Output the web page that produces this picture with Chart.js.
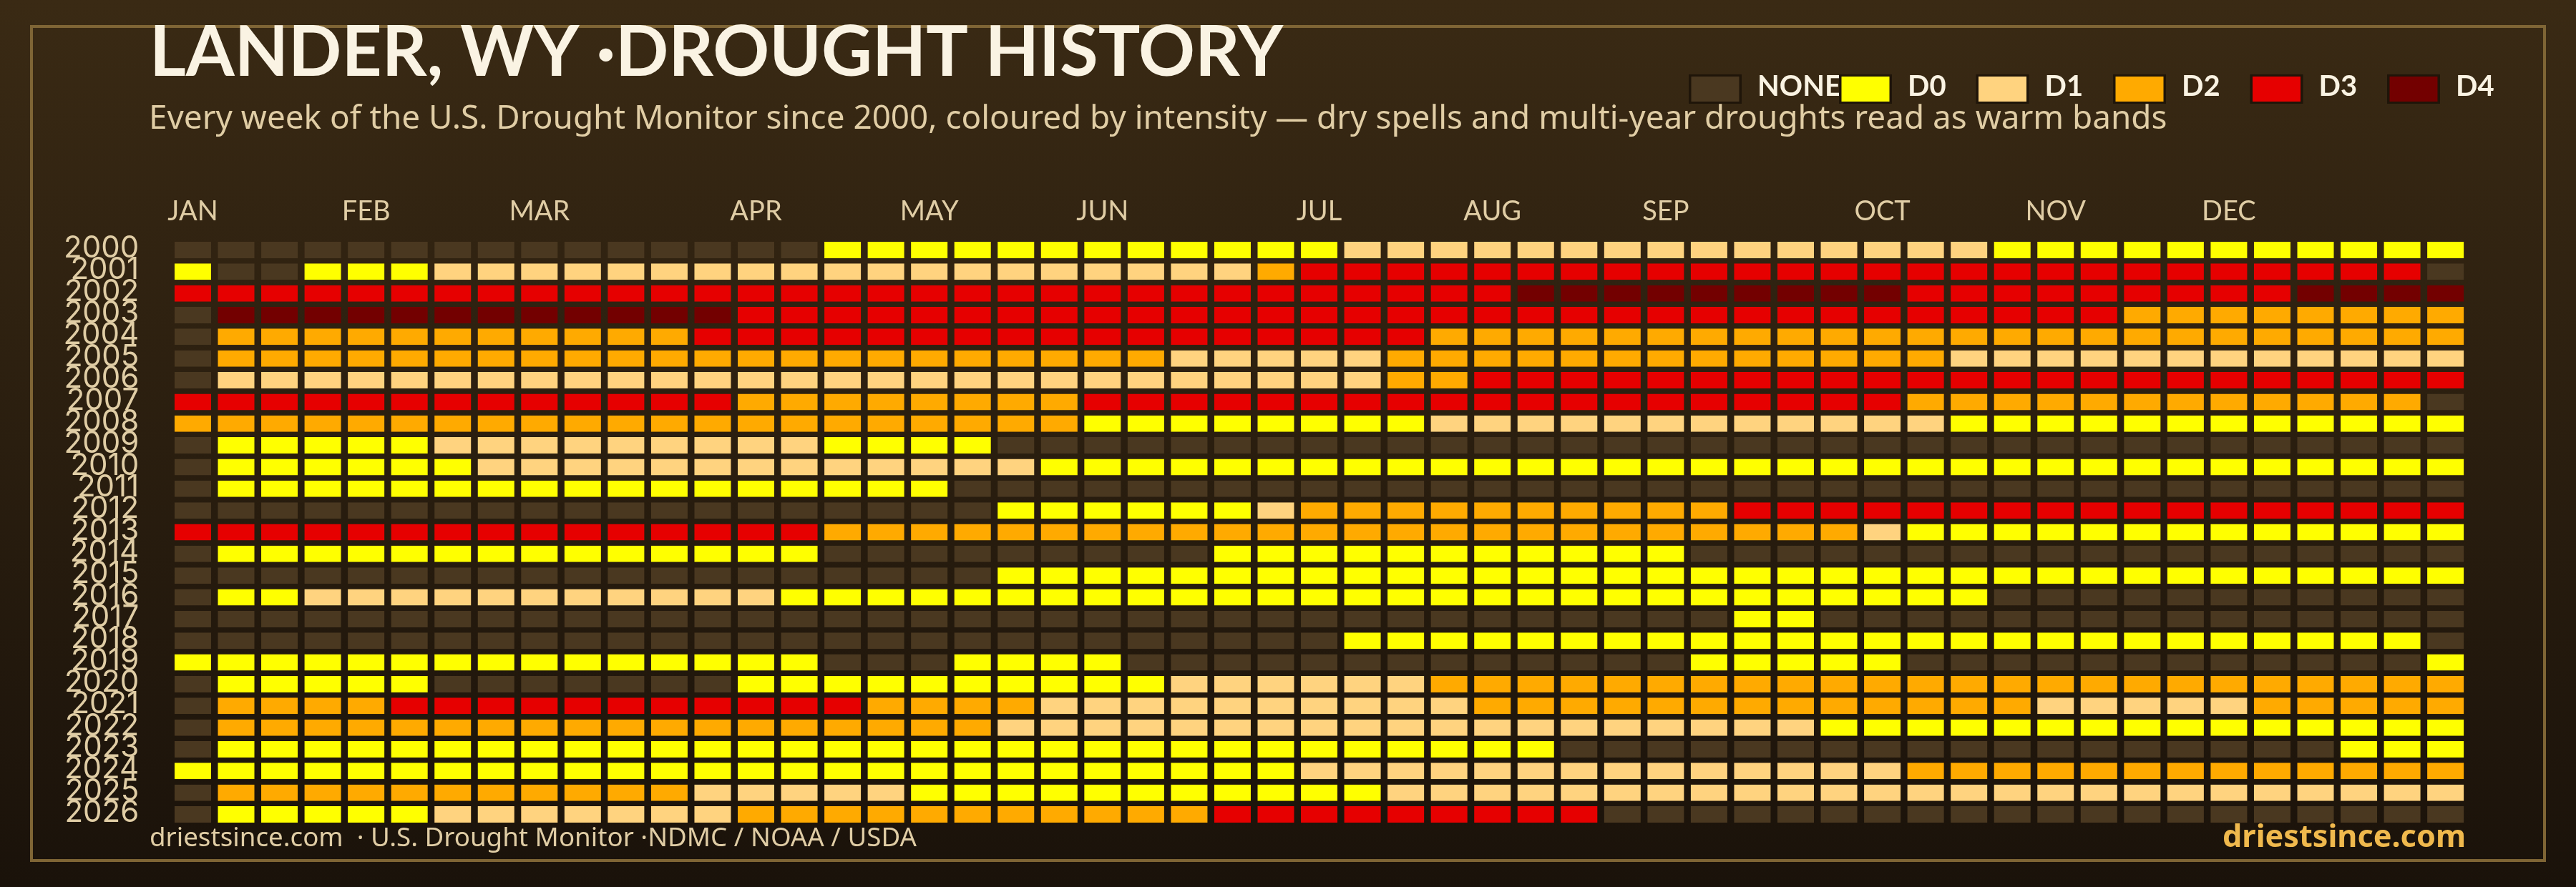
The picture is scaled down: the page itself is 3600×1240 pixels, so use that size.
<!DOCTYPE html>
<html><head><meta charset="utf-8">
<style>html,body{margin:0;padding:0;background:#1b130a}canvas{display:block}</style>
<script src="https://cdn.jsdelivr.net/npm/chart.js@4"></script>
</head><body><canvas id="c" width="3600" height="1240"></canvas>
<script>
const years=['2000','2001','2002','2003','2004','2005','2006','2007','2008','2009','2010','2011','2012','2013','2014','2015','2016','2017','2018','2019','2020','2021','2022','2023','2024','2025','2026'];
const monthLabels=['JAN','FEB','MAR','APR','MAY','JUN','JUL','AUG','SEP','OCT','NOV','DEC'];
const monthWeeks=[0,4,8,13,17,21,26,30,34,39,43,47];
const levelNames=['NONE','D0','D1','D2','D3','D4'];
const levelColors=['#4a3820','#ffff00','#ffd37f','#ffaa00','#e60000','#730000'];
// 0 = none, 1..5 = D0..D4; one entry per week of the year
const w2000=[0,0,0,0,0,0,0,0,0,0, 0,0,0,0,0,1,1,1,1,1, 1,1,1,1,1,1,1,2,2,2, 2,2,2,2,2,2,2,2,2,2, 2,2,1,1,1,1,1,1,1,1, 1,1,1];
const w2001=[1,0,0,1,1,1,2,2,2,2, 2,2,2,2,2,2,2,2,2,2, 2,2,2,2,2,3,4,4,4,4, 4,4,4,4,4,4,4,4,4,4, 4,4,4,4,4,4,4,4,4,4, 4,4,0];
const w2002=[4,4,4,4,4,4,4,4,4,4, 4,4,4,4,4,4,4,4,4,4, 4,4,4,4,4,4,4,4,4,4, 4,5,5,5,5,5,5,5,5,5, 4,4,4,4,4,4,4,4,4,5, 5,5,5];
const w2003=[0,5,5,5,5,5,5,5,5,5, 5,5,5,4,4,4,4,4,4,4, 4,4,4,4,4,4,4,4,4,4, 4,4,4,4,4,4,4,4,4,4, 4,4,4,4,4,3,3,3,3,3, 3,3,3];
const w2004=[0,3,3,3,3,3,3,3,3,3, 3,3,4,4,4,4,4,4,4,4, 4,4,4,4,4,4,4,4,4,3, 3,3,3,3,3,3,3,3,3,3, 3,3,3,3,3,3,3,3,3,3, 3,3,3];
const w2005=[0,3,3,3,3,3,3,3,3,3, 3,3,3,3,3,3,3,3,3,3, 3,3,3,2,2,2,2,2,3,3, 3,3,3,3,3,3,3,3,3,3, 3,2,2,2,2,2,2,2,2,2, 2,2,2];
const w2006=[0,2,2,2,2,2,2,2,2,2, 2,2,2,2,2,2,2,2,2,2, 2,2,2,2,2,2,2,2,3,3, 4,4,4,4,4,4,4,4,4,4, 4,4,4,4,4,4,4,4,4,4, 4,4,4];
const w2007=[4,4,4,4,4,4,4,4,4,4, 4,4,4,3,3,3,3,3,3,3, 3,4,4,4,4,4,4,4,4,4, 4,4,4,4,4,4,4,4,4,4, 3,3,3,3,3,3,3,3,3,3, 3,3,0];
const w2008=[3,3,3,3,3,3,3,3,3,3, 3,3,3,3,3,3,3,3,3,3, 3,1,1,1,1,1,1,1,1,2, 2,2,2,2,2,2,2,2,2,2, 2,1,1,1,1,1,1,1,1,1, 1,1,1];
const w2009=[0,1,1,1,1,1,2,2,2,2, 2,2,2,2,2,1,1,1,1,0, 0,0,0,0,0,0,0,0,0,0, 0,0,0,0,0,0,0,0,0,0, 0,0,0,0,0,0,0,0,0,0, 0,0,0];
const w2010=[0,1,1,1,1,1,1,2,2,2, 2,2,2,2,2,2,2,2,2,2, 1,1,1,1,1,1,1,1,1,1, 1,1,1,1,1,1,1,1,1,1, 1,1,1,1,1,1,1,1,1,1, 1,1,1];
const w2011=[0,1,1,1,1,1,1,1,1,1, 1,1,1,1,1,1,1,1,0,0, 0,0,0,0,0,0,0,0,0,0, 0,0,0,0,0,0,0,0,0,0, 0,0,0,0,0,0,0,0,0,0, 0,0,0];
const w2012=[0,0,0,0,0,0,0,0,0,0, 0,0,0,0,0,0,0,0,0,1, 1,1,1,1,1,2,3,3,3,3, 3,3,3,3,3,3,4,4,4,4, 4,4,4,4,4,4,4,4,4,4, 4,4,4];
const w2013=[4,4,4,4,4,4,4,4,4,4, 4,4,4,4,4,3,3,3,3,3, 3,3,3,3,3,3,3,3,3,3, 3,3,3,3,3,3,3,3,3,2, 1,1,1,1,1,1,1,1,1,1, 1,1,1];
const w2014=[0,1,1,1,1,1,1,1,1,1, 1,1,1,1,1,0,0,0,0,0, 0,0,0,0,1,1,1,1,1,1, 1,1,1,1,1,0,0,0,0,0, 0,0,0,0,0,0,0,0,0,0, 0,0,0];
const w2015=[0,0,0,0,0,0,0,0,0,0, 0,0,0,0,0,0,0,0,0,1, 1,1,1,1,1,1,1,1,1,1, 1,1,1,1,1,1,1,1,1,1, 1,1,1,1,1,1,1,1,1,1, 1,1,1];
const w2016=[0,1,1,2,2,2,2,2,2,2, 2,2,2,2,1,1,1,1,1,1, 1,1,1,1,1,1,1,1,1,1, 1,1,1,1,1,1,1,1,1,1, 1,1,0,0,0,0,0,0,0,0, 0,0,0];
const w2017=[0,0,0,0,0,0,0,0,0,0, 0,0,0,0,0,0,0,0,0,0, 0,0,0,0,0,0,0,0,0,0, 0,0,0,0,0,0,1,1,0,0, 0,0,0,0,0,0,0,0,0,0, 0,0,0];
const w2018=[0,0,0,0,0,0,0,0,0,0, 0,0,0,0,0,0,0,0,0,0, 0,0,0,0,0,0,0,1,1,1, 1,1,1,1,1,1,1,1,1,1, 1,1,1,1,1,1,1,1,1,1, 1,1,0];
const w2019=[1,1,1,1,1,1,1,1,1,1, 1,1,1,1,1,0,0,0,1,1, 1,1,0,0,0,0,0,0,0,0, 0,0,0,0,0,1,1,1,1,1, 0,0,0,0,0,0,0,0,0,0, 0,0,1];
const w2020=[0,1,1,1,1,1,0,0,0,0, 0,0,0,1,1,1,1,1,1,1, 1,1,1,2,2,2,2,2,2,3, 3,3,3,3,3,3,3,3,3,3, 3,3,3,3,3,3,3,3,3,3, 3,3,3];
const w2021=[0,3,3,3,3,4,4,4,4,4, 4,4,4,4,4,4,3,3,3,3, 2,2,2,2,2,2,2,2,2,2, 3,3,3,3,3,3,3,3,3,3, 3,3,3,2,2,2,2,2,3,3, 3,3,3];
const w2022=[0,3,3,3,3,3,3,3,3,3, 3,3,3,3,3,3,3,3,3,2, 2,2,2,2,2,2,2,2,2,2, 2,2,2,2,2,2,2,2,1,1, 1,1,1,1,1,1,1,1,1,1, 1,1,1];
const w2023=[0,1,1,1,1,1,1,1,1,1, 1,1,1,1,1,1,1,1,1,1, 1,1,1,1,1,1,1,1,1,1, 1,1,0,0,0,0,0,0,0,0, 0,0,0,0,0,0,0,0,0,0, 1,1,1];
const w2024=[1,1,1,1,1,1,1,1,1,1, 1,1,1,1,1,1,1,1,1,1, 1,1,1,1,1,1,2,2,2,2, 2,2,2,2,2,2,2,2,2,2, 3,3,3,3,3,3,3,3,3,3, 3,3,3];
const w2025=[0,3,3,3,3,3,3,3,3,3, 3,3,2,2,2,2,2,1,1,1, 1,1,1,1,1,1,1,1,2,2, 2,2,2,2,2,2,2,2,2,2, 2,2,2,2,2,2,2,2,2,2, 2,2,2];
const w2026=[0,1,1,1,1,1,2,2,2,2, 2,2,2,3,3,3,3,3,3,3, 3,3,3,3,4,4,4,4,4,4, 4,4,4,0,0,0,0,0,0,0, 0,0,0,0,0,0,0,0,0,0, 0,0,0];
const grid=[w2000,w2001,w2002,w2003,w2004,w2005,w2006,w2007,w2008,w2009,w2010,w2011,w2012,w2013,w2014,w2015,w2016,w2017,w2018,w2019,w2020,w2021,w2022,w2023,w2024,w2025,w2026];
const titleText='LANDER, WY \u00b7DROUGHT HISTORY';
const subtitleText='Every week of the U.S. Drought Monitor since 2000, coloured by intensity \u2014 dry spells and multi-year droughts read as warm bands';
const footerLeft='driestsince.com  \u00b7 U.S. Drought Monitor \u00b7NDMC / NOAA / USDA';
const footerRight='driestsince.com';

const CREAM='#faf3e3', TAN='#e0cda5', GOLD='#f0b94d';
const datasets=levelNames.map((name,lvl)=>{
  const data=[];
  grid.forEach((row,r)=>row.forEach((v,w)=>{ if(v===lvl) data.push({x:[w,w+1],y:years[r]}); }));
  return {label:name,data,backgroundColor:levelColors[lvl],borderColor:'rgba(0,0,0,0)',
    borderWidth:{left:4.77,right:4.77,top:0,bottom:0},borderSkipped:false,grouped:false,
    barPercentage:23/30.35,categoryPercentage:1};
});
function txt(ctx,s,x,y,font,color,align,ls){
  ctx.save();ctx.font=font;ctx.fillStyle=color;ctx.textAlign=align||'left';ctx.textBaseline='alphabetic';
  ctx.letterSpacing=ls||'0px';ctx.fillText(s,x,y);ctx.restore();
}
const decor={id:'decor',
  beforeDraw(ch){
    const ctx=ch.ctx,W=ch.width,H=ch.height;
    const g=ctx.createLinearGradient(0,0,0,H);g.addColorStop(0,'#3a2a14');g.addColorStop(1,'#1a120a');
    ctx.fillStyle=g;ctx.fillRect(0,0,W,H);
    ctx.strokeStyle='#7f6535';ctx.lineWidth=4;ctx.strokeRect(44,37,3512,1166);
    txt(ctx,titleText,209,106,'700 97.8px Lato',CREAM,'left','0px');
    txt(ctx,subtitleText,208,180,'400 45.85px "Noto Sans"',TAN,'left','0px');
    txt(ctx,footerLeft,209,1183,'400 36.7px "Noto Sans"',TAN,'left','0px');
    txt(ctx,footerRight,3446,1184,'700 43.2px "Noto Sans"',GOLD,'right','0px');
    const xs=[2360,2570,2761.5,2953,3144.5,3336];
    levelNames.forEach((n,i)=>{
      ctx.fillStyle='#1f1509';ctx.fillRect(xs[i],104,74,41);
      ctx.fillStyle=levelColors[i];ctx.fillRect(xs[i]+3.5,107,67,35);
      txt(ctx,n,xs[i]+96,134,'700 40px Lato',CREAM,'left','0px');
    });
  }
};
new Chart(document.getElementById('c'),{
  type:'bar',
  data:{labels:years,datasets},
  plugins:[decor],
  options:{
    indexAxis:'y',responsive:false,animation:false,devicePixelRatio:1,
    layout:{padding:{left:0,top:0,right:152.1,bottom:86.3}},
    plugins:{legend:{display:false},tooltip:{enabled:false},title:{display:false}},
    scales:{
      x:{type:'linear',position:'top',min:0,max:53,
        grid:{display:false,drawTicks:false},border:{display:false},
        afterBuildTicks:s=>{s.ticks=monthWeeks.map(w=>({value:w+0.5}));},
        afterFit:s=>{s.height=334.3;},
        ticks:{autoSkip:false,maxRotation:0,padding:16,color:TAN,font:{family:'Lato',size:38},
          callback:(v,i)=>monthLabels[i]}},
      y:{type:'category',
        grid:{display:false,drawTicks:false},border:{display:false},
        afterFit:s=>{s.width=239.2;},
        ticks:{autoSkip:false,padding:45,labelOffset:-2,color:TAN,font:{family:'Inter',size:42}}}
    }
  }
});
</script></body></html>
